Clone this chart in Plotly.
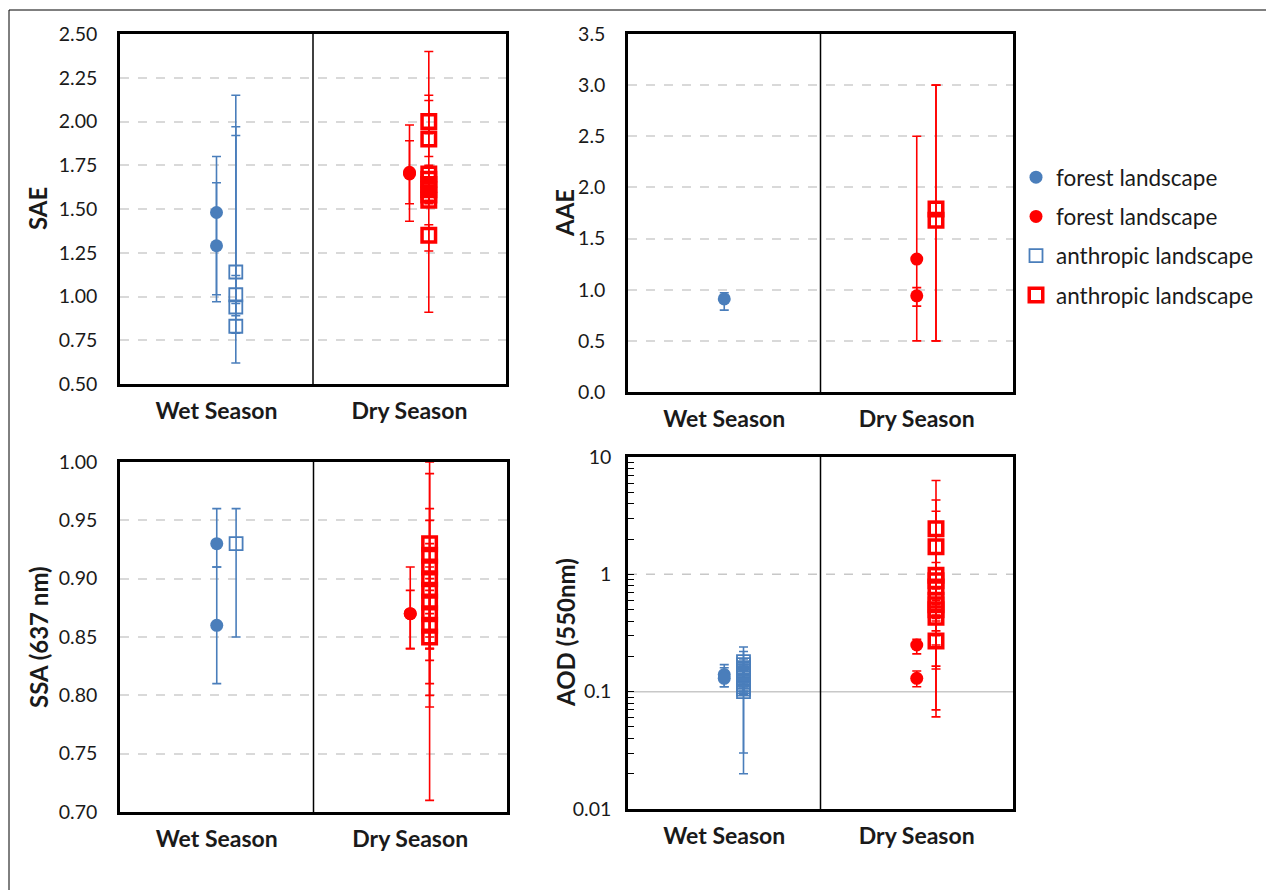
import plotly.graph_objects as go

# ---------------- data ----------------
SEASONS = ["Wet Season", "Dry Season"]
LEGEND_NAMES = ["forest landscape", "forest landscape", "anthropic landscape", "anthropic landscape"]

# SAE
sae_wet_forest = [1.48, 1.29]
sae_wet_forest_up = [1.80, 1.65]
sae_wet_forest_lo = [1.01, 0.97]
sae_dry_forest = [1.71, 1.70]
sae_dry_forest_up = [1.98, 1.89]
sae_dry_forest_lo = [1.43, 1.53]
sae_wet_anth = [1.14, 1.01, 0.94, 0.83]
sae_wet_anth_up = [2.15, 1.97, 1.92, 1.12]
sae_wet_anth_lo = [0.96, 0.89, 0.79, 0.62]
sae_dry_anth = [2.00, 1.90, 1.70, 1.67, 1.64, 1.61, 1.58, 1.55, 1.35]
sae_dry_anth_up = [2.12, 2.15, 2.40, 1.75, 1.71, 1.68, 1.65, 1.62, 1.41]
sae_dry_anth_lo = [1.93, 1.80, 0.91, 1.59, 1.57, 1.55, 1.53, 1.51, 1.26]

# AAE
aae_wet_forest = [0.91]
aae_wet_forest_up = [0.97]
aae_wet_forest_lo = [0.80]
aae_dry_forest = [1.30, 0.94]
aae_dry_forest_up = [2.50, 1.02]
aae_dry_forest_lo = [0.50, 0.84]
aae_wet_anth = []
aae_wet_anth_up = []
aae_wet_anth_lo = []
aae_dry_anth = [1.79, 1.68]
aae_dry_anth_up = [3.00, 3.00]
aae_dry_anth_lo = [0.50, 0.50]

# SSA (637 nm)
ssa_wet_forest = [0.93, 0.86]
ssa_wet_forest_up = [0.96, 0.91]
ssa_wet_forest_lo = [0.91, 0.81]
ssa_dry_forest = [0.87, 0.87]
ssa_dry_forest_up = [0.91, 0.89]
ssa_dry_forest_lo = [0.84, 0.84]
ssa_wet_anth = [0.93]
ssa_wet_anth_up = [0.96]
ssa_wet_anth_lo = [0.85]
ssa_dry_anth = [0.93, 0.92, 0.91, 0.90, 0.89, 0.88, 0.87, 0.86, 0.85]
ssa_dry_anth_up = [0.96, 1.00, 0.99, 0.95, 0.93, 0.91, 0.90, 0.89, 0.87]
ssa_dry_anth_lo = [0.71, 0.79, 0.80, 0.81, 0.83, 0.84, 0.85, 0.84, 0.84]

# AOD (550nm)
aod_wet_forest = [0.14, 0.13]
aod_wet_forest_up = [0.17, 0.16]
aod_wet_forest_lo = [0.11, 0.11]
aod_dry_forest = [0.25, 0.13]
aod_dry_forest_up = [0.28, 0.15]
aod_dry_forest_lo = [0.21, 0.11]
aod_wet_anth = [0.18, 0.17, 0.16, 0.155, 0.15, 0.145, 0.14, 0.135, 0.13, 0.125,
                0.12, 0.115, 0.11, 0.105, 0.10]
aod_wet_anth_up = [0.24, 0.22, 0.19, 0.18, 0.17, 0.17, 0.16, 0.16, 0.15, 0.15,
                   0.14, 0.14, 0.13, 0.12, 0.12]
aod_wet_anth_lo = [0.02, 0.03, 0.13, 0.13, 0.12, 0.12, 0.12, 0.11, 0.11, 0.10,
                   0.10, 0.10, 0.095, 0.095, 0.095]
aod_dry_anth = [2.45, 1.72, 0.98, 0.88, 0.78, 0.60, 0.55, 0.50, 0.43, 0.27]
aod_dry_anth_up = [6.3, 4.3, 3.45, 1.26, 1.10, 0.75, 0.68, 0.62, 0.55, 0.30]
aod_dry_anth_lo = [0.07, 0.061, 0.165, 0.156, 0.60, 0.45, 0.42, 0.40, 0.33, 0.25]

# log-axis ticks of the AOD panel (decades labelled, 2..9 unlabelled)
AOD_TICKVALS = [m * 10.0 ** e for e in (-2, -1, 0) for m in range(1, 10)] + [10.0]
AOD_TICKTEXT = [("0.01" if v == 0.01 else "0.1" if v == 0.1 else "1" if v == 1 else "")
                for v in AOD_TICKVALS[:-1]] + ["10"]

# ---------------- style ----------------
W, H = 1266, 890
BLUE = "#4A7EBB"
RED = "#FF0000"
GRID = "#D9D9D9"
FONT = "Lato"
TXT = "#1a1a1a"
ANTH_OFFSET = 0.1


def px_x(p):
    return p / W


def px_y(p):
    return 1 - p / H


panels = [
    dict(x="x", y="y", xd=(120, 506), yd=(34, 384), title="SAE", tx=38,
         data=(sae_wet_forest, sae_wet_forest_up, sae_wet_forest_lo,
               sae_dry_forest, sae_dry_forest_up, sae_dry_forest_lo,
               sae_wet_anth, sae_wet_anth_up, sae_wet_anth_lo,
               sae_dry_anth, sae_dry_anth_up, sae_dry_anth_lo),
         yaxis=dict(range=[0.5, 2.5], dtick=0.25, tick0=0.5, tickformat=".2f")),
    dict(x="x2", y="y2", xd=(628, 1013), yd=(34, 392), title="AAE", tx=565,
         data=(aae_wet_forest, aae_wet_forest_up, aae_wet_forest_lo,
               aae_dry_forest, aae_dry_forest_up, aae_dry_forest_lo,
               aae_wet_anth, aae_wet_anth_up, aae_wet_anth_lo,
               aae_dry_anth, aae_dry_anth_up, aae_dry_anth_lo),
         yaxis=dict(range=[0, 3.5], dtick=0.5, tick0=0, tickformat=".1f")),
    dict(x="x3", y="y3", xd=(120, 507), yd=(462, 812), title="SSA (637 nm)", tx=38,
         data=(ssa_wet_forest, ssa_wet_forest_up, ssa_wet_forest_lo,
               ssa_dry_forest, ssa_dry_forest_up, ssa_dry_forest_lo,
               ssa_wet_anth, ssa_wet_anth_up, ssa_wet_anth_lo,
               ssa_dry_anth, ssa_dry_anth_up, ssa_dry_anth_lo),
         yaxis=dict(range=[0.7, 1.0], dtick=0.05, tick0=0.7, tickformat=".2f")),
    dict(x="x4", y="y4", xd=(628, 1013), yd=(457, 809), title="AOD (550nm)", tx=565,
         data=(aod_wet_forest, aod_wet_forest_up, aod_wet_forest_lo,
               aod_dry_forest, aod_dry_forest_up, aod_dry_forest_lo,
               aod_wet_anth, aod_wet_anth_up, aod_wet_anth_lo,
               aod_dry_anth, aod_dry_anth_up, aod_dry_anth_lo),
         yaxis=dict(type="log", range=[-2, 1], tickmode="array",
                    tickvals=AOD_TICKVALS, ticktext=AOD_TICKTEXT,
                    ticks="inside", ticklen=6, tickwidth=1.3, tickcolor="black",
                    showgrid=False)),
]

fig = go.Figure()


def series(xa, ya, xpos, vals, up, lo, color, symbol, size, lw, name, show, rank):
    return go.Scatter(
        x=[xpos] * len(vals), y=vals, mode="markers", name=name,
        xaxis=xa, yaxis=ya, showlegend=show, legendgroup=f"g{rank}", legendrank=rank,
        marker=dict(symbol=symbol, size=size, color=color,
                    line=dict(width=lw, color=color)),
        error_y=dict(type="data", symmetric=False,
                     array=[u - v for u, v in zip(up, vals)],
                     arrayminus=[v - l for v, l in zip(vals, lo)],
                     color=color, thickness=1.6, width=4.5),
        cliponaxis=False,
    )


layout = dict(
    width=W, height=H, margin=dict(l=0, r=0, t=0, b=0, autoexpand=False),
    paper_bgcolor="white", plot_bgcolor="white",
    font=dict(family=FONT, color=TXT),
    showlegend=True,
    legend=dict(x=px_x(1016), y=px_y(156), xanchor="left", yanchor="top",
                font=dict(size=22.5, family=FONT, color=TXT),
                tracegroupgap=7, bgcolor="rgba(0,0,0,0)"),
    shapes=[], annotations=[],
)

for i, p in enumerate(panels):
    (wf, wfu, wfl, df, dfu, dfl, wa, wau, wal, da, dau, dal) = p["data"]
    show = i == 0
    fig.add_trace(series(p["x"], p["y"], 0.5, wf, wfu, wfl, BLUE, "circle", 13, 0, LEGEND_NAMES[0], show, 1))
    fig.add_trace(series(p["x"], p["y"], 1.5, df, dfu, dfl, RED, "circle", 13, 0, LEGEND_NAMES[1], show, 2))
    fig.add_trace(series(p["x"], p["y"], 0.5 + ANTH_OFFSET, wa, wau, wal, BLUE, "square-open", 13, 1.8, LEGEND_NAMES[2], show, 3))
    fig.add_trace(series(p["x"], p["y"], 1.5 + ANTH_OFFSET, da, dau, dal, RED, "square-open", 13.5, 3.5, LEGEND_NAMES[3], show, 4))

    xkey = "xaxis" + p["x"][1:]
    ykey = "yaxis" + p["y"][1:]
    layout[xkey] = dict(
        domain=[px_x(p["xd"][0]), px_x(p["xd"][1])], anchor=p["y"],
        range=[0, 2], tickvals=[0.5, 1.5],
        ticktext=[f"<b>{s}</b>" for s in SEASONS],
        tickfont=dict(size=23, family=FONT, color=TXT),
        showgrid=False, zeroline=False, ticks="",
        showline=True, mirror=True, linecolor="black", linewidth=2.5,
        ticklabelstandoff=5, fixedrange=True, automargin=False,
    )
    ya = dict(
        domain=[px_y(p["yd"][1]), px_y(p["yd"][0])], anchor=p["x"],
        showgrid=True, gridcolor=GRID, gridwidth=1.5, griddash="dash",
        zeroline=False, showline=True, mirror=True, linecolor="black", linewidth=2.5,
        tickfont=dict(size=19.5, family=FONT, color=TXT), ticklabelstandoff=16,
        fixedrange=True, automargin=False,
    )
    ya.update(p["yaxis"])
    if "ticks" in p["yaxis"]:
        ya["ticklabelstandoff"] = 10
    layout[ykey] = ya

    # season divider
    layout["shapes"].append(dict(type="line", xref=p["x"], yref=p["y"] + " domain",
                                 x0=1, x1=1, y0=0, y1=1,
                                 line=dict(color="black", width=1.5)))
    # axis title
    layout["annotations"].append(dict(
        text=f"<b>{p['title']}</b>", xref="paper", yref="paper",
        x=px_x(p["tx"]), y=px_y((p["yd"][0] + p["yd"][1]) / 2),
        textangle=-90, showarrow=False, xanchor="center", yanchor="middle",
        font=dict(size=24, family=FONT, color=TXT)))

# gridlines of the AOD panel: dashed at 1, solid at 0.1
layout["shapes"].append(dict(type="line", xref="x4 domain", yref="y4",
                             x0=0, x1=1, y0=1, y1=1, layer="below",
                             line=dict(color="#C8C8C8", width=1.5, dash="dash")))
layout["shapes"].append(dict(type="line", xref="x4 domain", yref="y4",
                             x0=0, x1=1, y0=0.1, y1=0.1, layer="below",
                             line=dict(color="#C8C8C8", width=1.5)))
# outer frame of figure
layout["shapes"].append(dict(type="rect", xref="paper", yref="paper",
                             x0=px_x(9), x1=px_x(1275), y0=px_y(900), y1=px_y(10),
                             line=dict(color="black", width=1), layer="below"))

fig.update_layout(**layout)
fig.write_html("out.html", config={"displayModeBar": False},
               post_script="document.body.style.margin='0px';")
